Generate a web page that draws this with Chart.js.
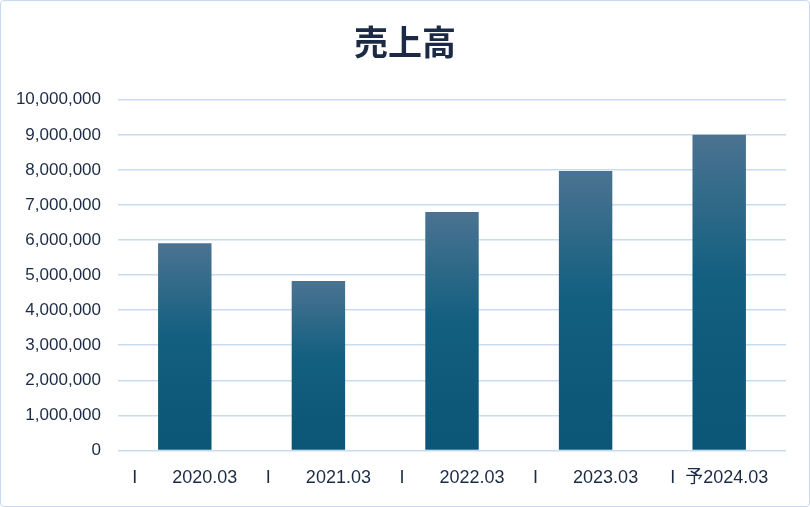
<!DOCTYPE html>
<html lang="ja">
<head>
<meta charset="utf-8">
<script src="https://cdn.jsdelivr.net/npm/chart.js@4"></script>
<style>
  html, body { margin: 0; padding: 0; background: #fff; }
  .box {
    width: 808px; height: 505px;
    border: 1px solid #c6d9f0; border-radius: 4px;
    position: relative; overflow: hidden;
  }
</style>
</head>
<body>
<div class="box"><canvas id="salesChart" width="808" height="505"></canvas></div>
<script>
const periods = ["I       2020.03", "I       2021.03", "I       2022.03", "I       2023.03", "I  予2024.03"];
const sales = [5910000, 4830000, 6800000, 7970000, 9000000];

const textColor = "#1c2b45";

function barGradient(context) {
  const chart = context.chart;
  const yScale = chart.scales.y;
  if (!yScale || context.parsed == null) return "#1a6690";
  const top = yScale.getPixelForValue(context.parsed.y);
  const bottom = yScale.getPixelForValue(0);
  if (!isFinite(top) || !isFinite(bottom) || top === bottom) return "#1a6690";
  const g = chart.ctx.createLinearGradient(0, top, 0, bottom);
  g.addColorStop(0, "#4b7391");
  g.addColorStop(0.45, "#135f80");
  g.addColorStop(1, "#0b5576");
  return g;
}

new Chart(document.getElementById("salesChart"), {
  type: "bar",
  data: {
    labels: periods,
    datasets: [{
      label: "売上高",
      data: sales,
      backgroundColor: barGradient,
      barPercentage: 0.4,
      categoryPercentage: 1.0,
    }],
  },
  options: {
    responsive: false,
    animation: false,
    layout: { padding: { left: 0, right: 0, top: 0, bottom: 8 } },
    plugins: {
      legend: { display: false },
      tooltip: { enabled: false },
      title: {
        display: true,
        text: "売上高",
        color: textColor,
        font: { family: "'Noto Sans CJK JP', sans-serif", size: 34, weight: "bold" },
        padding: { top: 21, bottom: 37 },
      },
    },
    scales: {
      x: {
        grid: { display: false },
        border: { display: false },
        ticks: {
          color: textColor,
          font: { family: "'Liberation Sans', 'Noto Sans CJK JP', sans-serif", size: 18 },
          padding: 9,
          maxRotation: 0,
        },
      },
      y: {
        min: 0,
        max: 10000000,
        afterFit: scale => { scale.width = 117; },
        grid: { color: "#c9dbf0", lineWidth: 1.5, drawTicks: false },
        border: { display: false },
        ticks: {
          stepSize: 1000000,
          color: textColor,
          padding: 17,
          font: { family: "'Liberation Sans', sans-serif", size: 17 },
          callback: v => v.toLocaleString("en-US"),
        },
      },
      // empty right-hand spacer so the title stays centred on the whole canvas
      spacer: {
        type: "linear",
        position: "right",
        afterFit: scale => { scale.width = 23; },
        grid: { display: false },
        border: { display: false },
        ticks: { display: false },
      },
    },
  },
});
</script>
</body>
</html>
